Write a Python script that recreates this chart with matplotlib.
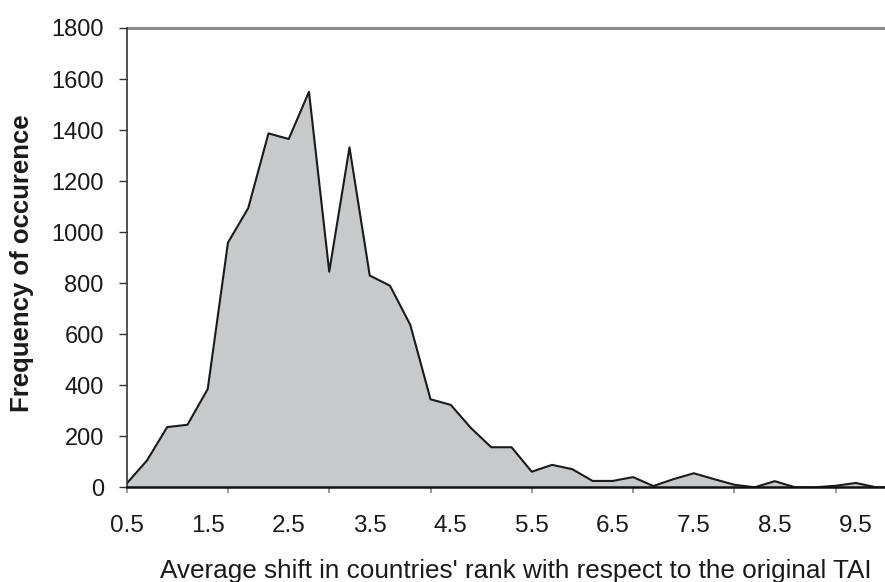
import matplotlib
matplotlib.use("Agg")
import matplotlib.pyplot as plt

plt.rcParams['font.family'] = ['Liberation Sans', 'DejaVu Sans']

# average shift (category axis, step 0.25)
shift = [0.5, 0.75, 1.0, 1.25, 1.5, 1.75, 2.0, 2.25, 2.5, 2.75,
         3.0, 3.25, 3.5, 3.75, 4.0, 4.25, 4.5, 4.75, 5.0, 5.25,
         5.5, 5.75, 6.0, 6.25, 6.5, 6.75, 7.0, 7.25, 7.5, 7.75,
         8.0, 8.25, 8.5, 8.75, 9.0, 9.25, 9.5, 9.75, 10.0]
freq = [15, 105, 236, 245, 385, 959, 1094, 1387, 1365, 1550,
        845, 1332, 830, 790, 637, 345, 323, 232, 157, 157,
        61, 88, 71, 25, 25, 40, 5, 32, 55, 32,
        10, 0, 24, 0, 0, 6, 17, 0, 0]

label_pos = [0.5, 1.5, 2.5, 3.5, 4.5, 5.5, 6.5, 7.5, 8.5, 9.5]
label_txt = ["0.5", "1.5", "2.5", "3.5", "4.5", "5.5", "6.5", "7.5", "8.5", "9.5"]
tick_pos = [0.5, 1.75, 3.0, 4.25, 5.5, 6.75, 8.0, 9.25]
yticks = [0, 200, 400, 600, 800, 1000, 1200, 1400, 1600, 1800]

fig = plt.figure(figsize=(8.85, 5.82), dpi=100)
ax = fig.add_axes([126.7 / 885, (582 - 487.3) / 582, (885 - 126.7) / 885, (487.3 - 28) / 582])

ax.fill_between(shift, freq, 0, color='#c8c9cb', linewidth=0)
ax.plot(shift, freq, color='#1a1a1a', linewidth=1.5)

ax.set_xlim(0.5, 9.86)
ax.set_ylim(0, 1800)

for s in ['right', 'top']:
    ax.spines[s].set_visible(False)
ax.spines['left'].set_color('#333333')
ax.spines['left'].set_linewidth(1.2)
ax.spines['bottom'].set_color('#111111')
ax.spines['bottom'].set_linewidth(1.8)
ax.axhline(1800, color='#8c8c8c', linewidth=2.2, clip_on=False)

ax.set_yticks(yticks)
ax.tick_params(axis='y', direction='out', length=5.5, width=1, color='#333333',
               labelsize=17, pad=11, labelcolor='#1a1a1a')

ax.xaxis.remove_overlapping_locs = False
ax.set_xticks(tick_pos)
ax.set_xticklabels([])
ax.tick_params(axis='x', which='major', direction='out', length=4.5, width=1.2, color='#888888')
ax.set_xticks(label_pos, minor=True)
ax.set_xticklabels(label_txt, minor=True)
ax.tick_params(axis='x', which='minor', length=0, labelsize=17.5, pad=20, labelcolor='#1a1a1a')

fig.text(516 / 885, 1 - 578 / 582, "Average shift in countries' rank with respect to the original TAI",
         ha='center', va='baseline', fontsize=18.8, color='#1a1a1a')
fig.text(22 / 885, 1 - 263 / 582, "Frequency of occurence", rotation=90,
         ha='center', va='center', fontsize=18.5, fontweight='bold', color='#1a1a1a')

fig.savefig("out.png", dpi=100)
